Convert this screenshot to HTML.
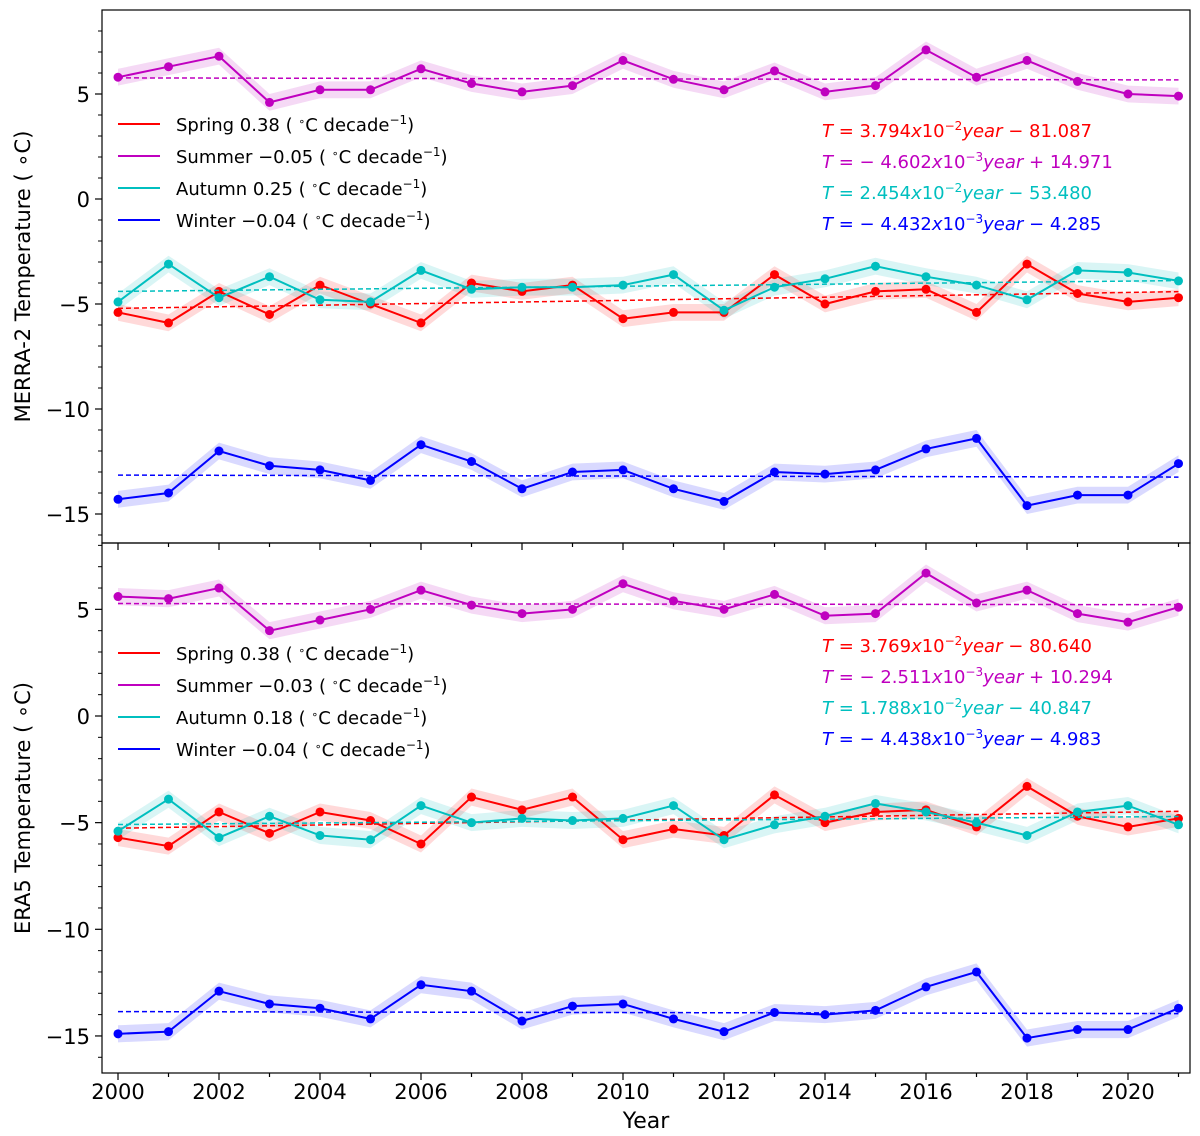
<!DOCTYPE html>
<html><head><meta charset="utf-8"><style>
body{margin:0;background:#fff;}
svg{display:block;font-family:"DejaVu Sans","Liberation Sans",sans-serif;}
</style></head><body>
<svg id="chart" width="1200" height="1136" viewBox="0 0 1200 1136" xmlns="http://www.w3.org/2000/svg"></svg>
<script>
const years=[2000,2001,2002,2003,2004,2005,2006,2007,2008,2009,2010,2011,2012,2013,2014,2015,2016,2017,2018,2019,2020,2021];
const xTicks=[2000,2002,2004,2006,2008,2010,2012,2014,2016,2018,2020];
const yTicks=[5,0,-5,-10,-15];
const merraSpring=[-5.4,-5.9,-4.4,-5.5,-4.1,-5.0,-5.9,-4.0,-4.4,-4.1,-5.7,-5.4,-5.4,-3.6,-5.0,-4.4,-4.3,-5.4,-3.1,-4.5,-4.9,-4.7];
const merraSummer=[5.8,6.3,6.8,4.6,5.2,5.2,6.2,5.5,5.1,5.4,6.6,5.7,5.2,6.1,5.1,5.4,7.1,5.8,6.6,5.6,5.0,4.9];
const merraAutumn=[-4.9,-3.1,-4.7,-3.7,-4.8,-4.9,-3.4,-4.3,-4.2,-4.2,-4.1,-3.6,-5.3,-4.2,-3.8,-3.2,-3.7,-4.1,-4.8,-3.4,-3.5,-3.9];
const merraWinter=[-14.3,-14.0,-12.0,-12.7,-12.9,-13.4,-11.7,-12.5,-13.8,-13.0,-12.9,-13.8,-14.4,-13.0,-13.1,-12.9,-11.9,-11.4,-14.6,-14.1,-14.1,-12.6];
const eraSpring=[-5.7,-6.1,-4.5,-5.5,-4.5,-4.9,-6.0,-3.8,-4.4,-3.8,-5.8,-5.3,-5.6,-3.7,-5.0,-4.5,-4.4,-5.2,-3.3,-4.7,-5.2,-4.8];
const eraSummer=[5.6,5.5,6.0,4.0,4.5,5.0,5.9,5.2,4.8,5.0,6.2,5.4,5.0,5.7,4.7,4.8,6.7,5.3,5.9,4.8,4.4,5.1];
const eraAutumn=[-5.4,-3.9,-5.7,-4.7,-5.6,-5.8,-4.2,-5.0,-4.8,-4.9,-4.8,-4.2,-5.8,-5.1,-4.7,-4.1,-4.5,-5.0,-5.6,-4.5,-4.2,-5.1];
const eraWinter=[-14.9,-14.8,-12.9,-13.5,-13.7,-14.2,-12.6,-12.9,-14.3,-13.6,-13.5,-14.2,-14.8,-13.9,-14.0,-13.8,-12.7,-12.0,-15.1,-14.7,-14.7,-13.7];
const merraSlopes=[3.794e-2,-4.602e-3,2.454e-2,-4.432e-3];
const merraIntercepts=[-81.087,14.971,-53.480,-4.285];
const eraSlopes=[3.769e-2,-2.511e-3,1.788e-2,-4.438e-3];
const eraIntercepts=[-80.640,10.294,-40.847,-4.983];
const merraRates=["0.38","\u22120.05","0.25","\u22120.04"];
const eraRates=["0.38","\u22120.03","0.18","\u22120.04"];
const seasonNames=["Spring","Summer","Autumn","Winter"];
const colors=["#ff0000","#bf00bf","#00bfbf","#0000ff"];
const bands=["rgba(255,0,0,0.15)","rgba(191,0,191,0.15)","rgba(0,191,191,0.15)","rgba(0,0,255,0.15)"];
const ns="http://www.w3.org/2000/svg";
const svg=document.getElementById('chart');
const X0=102,X1=1190;
const xs=y=>118+(y-2000)*50.5;
function el(tag,attrs,parent){const e=document.createElementNS(ns,tag);for(const k in attrs)e.setAttribute(k,attrs[k]);(parent||svg).appendChild(e);return e;}
function mant(s){const e=Math.floor(Math.log10(Math.abs(s)));return [(Math.abs(s)/Math.pow(10,e)).toFixed(3),e];}
function panel(cfg){
  const {top,bot,zero,unit,series,slopes,intercepts,rates,title,legendY,eqY,name}=cfg;
  const ys=v=>zero-v*unit;
  const g=el('g',{});
  
  
  series.forEach((d,i)=>{
    let up=d.map((v,j)=>xs(years[j])+','+ys(v+0.4)).join(' ');
    let dn=d.slice().reverse().map((v,j)=>xs(years[d.length-1-j])+','+ys(v-0.4)).join(' ');
    const b=el('polygon',{points:up+' '+dn,fill:bands[i]},g);
    
    
  });
  series.forEach((d,i)=>{
    const t=el('line',{x1:xs(2000),x2:xs(2021),y1:ys(slopes[i]*2000+intercepts[i]),y2:ys(slopes[i]*2021+intercepts[i]),stroke:colors[i],'stroke-width':1.5,'stroke-dasharray':'5,3'},g);
    
    
    const l=el('polyline',{points:d.map((v,j)=>xs(years[j])+','+ys(v)).join(' '),fill:'none',stroke:colors[i],'stroke-width':2},g);
    
    
    d.forEach((v,j)=>{
      const c=el('circle',{cx:xs(years[j]),cy:ys(v),r:4.5,fill:colors[i]},g);
      
      
    });
  });
  const f=el('rect',{x:X0,y:top,width:X1-X0,height:bot-top,fill:'none',stroke:'#000','stroke-width':1.2},g);
  
  
  yTicks.forEach(v=>{
    el('line',{x1:X0-7,x2:X0,y1:ys(v),y2:ys(v),stroke:'#000','stroke-width':1.2},g);
    const t=el('text',{x:X0-12,y:ys(v)+8,'text-anchor':'end','font-size':21},g);
    t.textContent=(v<0?"\u2212":"")+Math.abs(v);
    
    
  });
  for(let v=-16;v<=8;v++){if(v%5!==0&&ys(v)>top&&ys(v)<bot)el('line',{x1:X0-4,x2:X0,y1:ys(v),y2:ys(v),stroke:'#000'},g);}
  years.forEach(y=>{el('line',{x1:xs(y),x2:xs(y),y1:bot,y2:bot+(y%2===0?7:4),stroke:'#000','stroke-width':1.2},g);});
  const yt=el('text',{transform:`translate(30,${(top+bot)/2}) rotate(-90)`,'text-anchor':'middle','font-size':21},g);
  yt.textContent=title;
  
  
  seasonNames.forEach((s,i)=>{
    const ly=legendY+i*32;
    const ll=el('line',{x1:118,x2:160,y1:ly,y2:ly,stroke:colors[i],'stroke-width':2},g);
    
    
    const t=el('text',{x:176,y:ly+7,'font-size':18},g);
    
    
    t.innerHTML=`${s} ${rates[i]} ( <tspan baseline-shift="super" font-size="11">\u2218</tspan>C decade<tspan baseline-shift="super" font-size="12">\u22121</tspan>)`;
    const [m,e]=mant(slopes[i]);
    const eq=el('text',{x:822,y:eqY+i*31+7,'font-size':18,fill:colors[i]},g);
    
    
    const sgn=slopes[i]<0?" \u2212 ":"";
    const ic=intercepts[i];
    eq.innerHTML=`<tspan font-style="italic">T</tspan> = ${sgn}${m}<tspan font-style="italic">x</tspan>10<tspan baseline-shift="super" font-size="12">\u2212${Math.abs(e)}</tspan><tspan font-style="italic">year</tspan> ${ic<0?"\u2212":"+"} ${Math.abs(ic).toFixed(3)}`;
  });
}
panel({top:10,bot:543,zero:199,unit:21,series:[merraSpring,merraSummer,merraAutumn,merraWinter],slopes:merraSlopes,intercepts:merraIntercepts,rates:merraRates,title:"MERRA-2 Temperature ( \u2218C)",legendY:124,eqY:130,name:'merra2-panel'});
panel({top:543,bot:1073,zero:716,unit:21.33,series:[eraSpring,eraSummer,eraAutumn,eraWinter],slopes:eraSlopes,intercepts:eraIntercepts,rates:eraRates,title:"ERA5 Temperature ( \u2218C)",legendY:653,eqY:645,name:'era5-panel'});
xTicks.forEach(y=>{
  const t=el('text',{x:xs(y),y:1099,'text-anchor':'middle','font-size':21});
  t.textContent=y;
  
  
});
const xt=el('text',{x:646,y:1128,'text-anchor':'middle','font-size':22});
xt.textContent="Year";


</script>
</body></html>
